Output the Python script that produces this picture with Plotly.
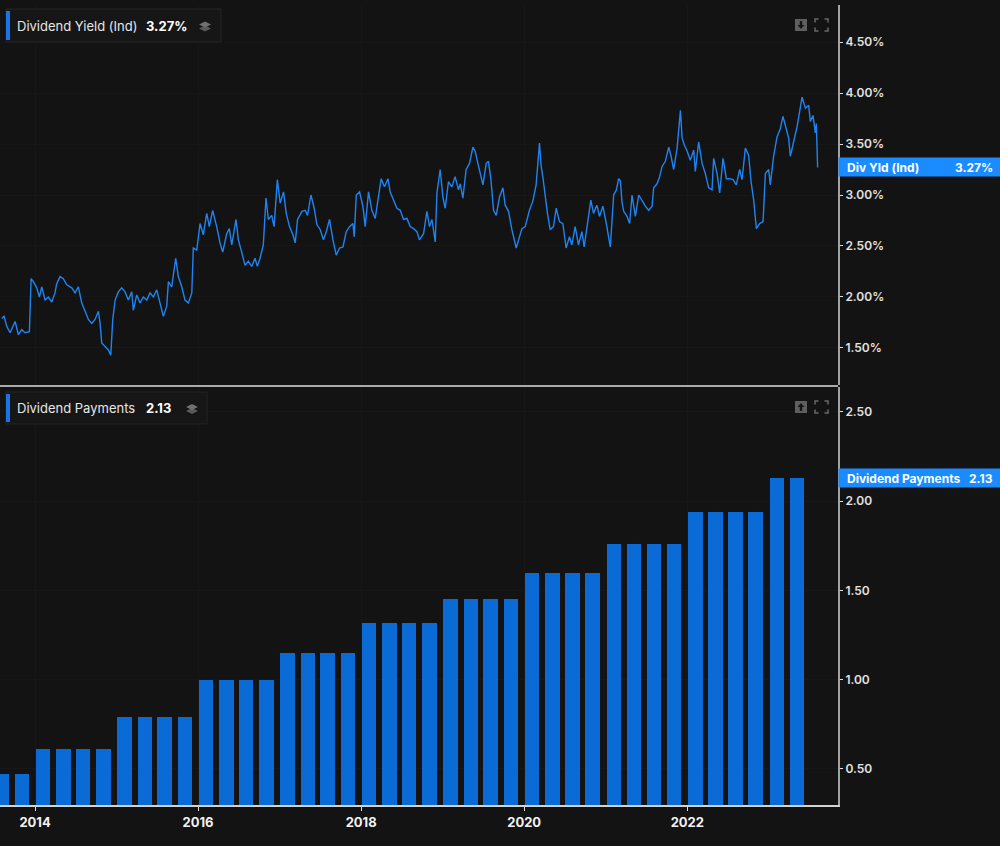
import pandas as pd
import plotly.graph_objects as go

W, H = 1000, 846

# Dividend yield (indicated), in %. Dates.
yield_t = [
    2013.591, 2013.620, 2013.653, 2013.693, 2013.755, 2013.795, 2013.837, 2013.877, 2013.930, 2013.951,
    2013.979, 2014.021, 2014.053, 2014.082, 2014.123, 2014.163, 2014.205, 2014.245, 2014.266, 2014.307,
    2014.347, 2014.389, 2014.450, 2014.491, 2014.531, 2014.573, 2014.614, 2014.654, 2014.696, 2014.736,
    2014.777, 2014.798, 2014.818, 2014.859, 2014.899, 2014.929, 2014.953, 2014.982, 2015.022, 2015.064,
    2015.104, 2015.145, 2015.187, 2015.206, 2015.248, 2015.288, 2015.329, 2015.371, 2015.411, 2015.452,
    2015.493, 2015.534, 2015.574, 2015.616, 2015.636, 2015.677, 2015.726, 2015.758, 2015.800, 2015.840,
    2015.881, 2015.923, 2015.942, 2015.984, 2016.025, 2016.065, 2016.107, 2016.139, 2016.180, 2016.229,
    2016.270, 2016.303, 2016.352, 2016.384, 2016.414, 2016.466, 2016.495, 2016.536, 2016.577, 2016.617,
    2016.659, 2016.699, 2016.728, 2016.761, 2016.801, 2016.834, 2016.863, 2016.904, 2016.933, 2016.973,
    2017.006, 2017.047, 2017.080, 2017.120, 2017.162, 2017.190, 2017.219, 2017.273, 2017.313, 2017.341,
    2017.383, 2017.423, 2017.456, 2017.497, 2017.537, 2017.571, 2017.611, 2017.653, 2017.693, 2017.734,
    2017.776, 2017.816, 2017.856, 2017.898, 2017.914, 2017.939, 2017.979, 2018.021, 2018.049, 2018.090,
    2018.131, 2018.172, 2018.212, 2018.245, 2018.286, 2018.328, 2018.356, 2018.396, 2018.438, 2018.479,
    2018.519, 2018.561, 2018.601, 2018.642, 2018.684, 2018.715, 2018.765, 2018.806, 2018.838, 2018.868,
    2018.908, 2018.929, 2018.969, 2019.003, 2019.031, 2019.071, 2019.113, 2019.153, 2019.194, 2019.215,
    2019.248, 2019.288, 2019.329, 2019.371, 2019.399, 2019.432, 2019.460, 2019.494, 2019.534, 2019.562,
    2019.592, 2019.624, 2019.657, 2019.697, 2019.739, 2019.767, 2019.808, 2019.849, 2019.902, 2019.930,
    2019.972, 2020.013, 2020.065, 2020.107, 2020.147, 2020.188, 2020.209, 2020.229, 2020.258, 2020.286,
    2020.319, 2020.360, 2020.393, 2020.433, 2020.475, 2020.515, 2020.556, 2020.585, 2020.626, 2020.666,
    2020.708, 2020.736, 2020.777, 2020.818, 2020.851, 2020.892, 2020.924, 2020.966, 2021.006, 2021.055,
    2021.096, 2021.129, 2021.157, 2021.178, 2021.198, 2021.219, 2021.260, 2021.292, 2021.321, 2021.362,
    2021.403, 2021.444, 2021.485, 2021.525, 2021.567, 2021.587, 2021.628, 2021.660, 2021.690, 2021.730,
    2021.771, 2021.800, 2021.832, 2021.874, 2021.915, 2021.935, 2021.963, 2021.997, 2022.037, 2022.078,
    2022.098, 2022.139, 2022.181, 2022.221, 2022.262, 2022.303, 2022.323, 2022.365, 2022.397, 2022.438,
    2022.479, 2022.519, 2022.561, 2022.601, 2022.642, 2022.671, 2022.712, 2022.752, 2022.782, 2022.814,
    2022.847, 2022.887, 2022.929, 2022.957, 2022.998, 2023.018, 2023.059, 2023.101, 2023.141, 2023.174,
    2023.203, 2023.243, 2023.264, 2023.305, 2023.347, 2023.408, 2023.449, 2023.489, 2023.510, 2023.542,
    2023.571, 2023.583, 2023.599,
]
yield_pct = [
    1.79, 1.81, 1.71, 1.65, 1.76, 1.63, 1.68, 1.65, 1.66, 2.18,
    2.15, 2.09, 2.00, 2.10, 1.97, 2.00, 1.95, 2.04, 2.13, 2.20,
    2.18, 2.12, 2.09, 2.04, 2.10, 1.94, 1.86, 1.78, 1.74, 1.78,
    1.86, 1.74, 1.55, 1.51, 1.48, 1.43, 1.78, 1.97, 2.05, 2.09,
    2.05, 1.97, 2.05, 1.87, 2.02, 1.94, 2.00, 1.97, 2.04, 2.00,
    2.07, 1.94, 1.81, 1.91, 2.15, 2.10, 2.38, 2.20, 2.10, 1.97,
    1.94, 2.04, 2.48, 2.46, 2.72, 2.61, 2.82, 2.69, 2.85, 2.69,
    2.53, 2.44, 2.62, 2.67, 2.51, 2.76, 2.56, 2.44, 2.31, 2.35,
    2.30, 2.38, 2.30, 2.38, 2.51, 2.97, 2.76, 2.80, 2.69, 3.15,
    2.92, 3.03, 2.82, 2.69, 2.61, 2.53, 2.76, 2.84, 2.85, 2.80,
    3.00, 2.87, 2.71, 2.66, 2.56, 2.64, 2.76, 2.56, 2.41, 2.48,
    2.49, 2.64, 2.69, 2.72, 2.59, 3.00, 3.03, 2.89, 2.69, 3.03,
    2.85, 2.77, 3.00, 3.16, 3.08, 3.16, 3.03, 2.95, 2.87, 2.85,
    2.76, 2.77, 2.69, 2.67, 2.64, 2.56, 2.62, 2.84, 2.69, 2.76,
    2.54, 3.02, 3.25, 2.98, 2.87, 3.13, 3.08, 3.18, 3.05, 3.11,
    2.97, 3.25, 3.31, 3.47, 3.43, 3.31, 3.21, 3.10, 3.31, 3.33,
    3.15, 2.85, 2.80, 2.98, 3.07, 2.90, 2.84, 2.66, 2.48, 2.56,
    2.67, 2.69, 2.85, 2.94, 3.10, 3.51, 3.28, 3.18, 2.98, 2.82,
    2.66, 2.69, 2.87, 2.74, 2.72, 2.48, 2.59, 2.51, 2.69, 2.51,
    2.64, 2.49, 2.72, 2.95, 2.82, 2.90, 2.79, 2.89, 2.72, 2.49,
    3.00, 3.05, 3.16, 3.14, 2.93, 2.84, 2.79, 2.72, 3.00, 2.79,
    3.00, 2.94, 2.89, 2.85, 2.89, 3.07, 3.11, 3.18, 3.28, 3.33,
    3.47, 3.38, 3.25, 3.46, 3.83, 3.56, 3.49, 3.43, 3.34, 3.44,
    3.23, 3.52, 3.31, 3.21, 3.07, 3.05, 3.36, 3.21, 3.02, 3.36,
    3.16, 3.16, 3.15, 3.10, 3.25, 3.15, 3.46, 3.39, 3.13, 2.95,
    2.67, 2.72, 2.74, 3.21, 3.25, 3.10, 3.38, 3.57, 3.65, 3.77,
    3.67, 3.56, 3.38, 3.51, 3.67, 3.96, 3.85, 3.88, 3.72, 3.78,
    3.61, 3.70, 3.27,
]

# Dividend payments (bars)
pay_dates = [
    "2013-08-04", "2013-11-03",
    "2014-02-06", "2014-05-08", "2014-08-04", "2014-11-03",
    "2015-02-06", "2015-05-08", "2015-08-04", "2015-11-03",
    "2016-02-06", "2016-05-08", "2016-08-04", "2016-11-03",
    "2017-02-06", "2017-05-08", "2017-08-04", "2017-11-03",
    "2018-02-06", "2018-05-08", "2018-08-04", "2018-11-03",
    "2019-02-06", "2019-05-08", "2019-08-04", "2019-11-03",
    "2020-02-06", "2020-05-08", "2020-08-04", "2020-11-03",
    "2021-02-06", "2021-05-08", "2021-08-04", "2021-11-03",
    "2022-02-06", "2022-05-08", "2022-08-04", "2022-11-03",
    "2023-02-06", "2023-05-08",
]
pay_amount = [
    0.47, 0.47,
    0.61, 0.61, 0.61, 0.61,
    0.79, 0.79, 0.79, 0.79,
    1.00, 1.00, 1.00, 1.00,
    1.15, 1.15, 1.15, 1.15,
    1.32, 1.32, 1.32, 1.32,
    1.45, 1.45, 1.45, 1.45,
    1.60, 1.60, 1.60, 1.60,
    1.76, 1.76, 1.76, 1.76,
    1.94, 1.94, 1.94, 1.94,
    2.13, 2.13,
]

year_ticks = ["2014-01-01", "2016-01-01", "2018-01-01", "2020-01-01", "2022-01-01"]
year_labels = ["2014", "2016", "2018", "2020", "2022"]
yield_ticks = [1.5, 2.0, 2.5, 3.0, 3.5, 4.0, 4.5]
pay_ticks = [0.5, 1.0, 1.5, 2.0, 2.5]


def to_date(t):
    yr = int(t)
    return pd.Timestamp(year=yr, month=1, day=1) + pd.Timedelta(days=(t - yr) * 365.25)


yield_dates = [to_date(t) for t in yield_t]


# pixel -> paper helpers for the decorations
def px(x):
    return x / W


def py(y):
    return 1 - y / H


BG = "#131313"
BLUE_LINE = "#1f84f2"
BLUE_BAR = "#0b6bd6"
BLUE_TAG = "#1a8cff"
FONT = "Inter, Roboto, sans-serif"
x_range = ["2013-07-28", "2023-11-07"]

fig = go.Figure()
fig.add_trace(go.Scatter(x=yield_dates, y=yield_pct, mode="lines",
                         line=dict(color=BLUE_LINE, width=1.4),
                         xaxis="x", yaxis="y", hoverinfo="skip"))
fig.add_trace(go.Bar(x=pd.to_datetime(pay_dates), y=pay_amount,
                     marker=dict(color=BLUE_BAR, line=dict(width=0)),
                     width=65 * 86400000, xaxis="x2", yaxis="y2", hoverinfo="skip"))

tickfont = dict(family=FONT, size=12, color="#e2e2e2", weight=600)
grid = "#171717"

fig.update_layout(
    width=W, height=H,
    margin=dict(l=0, r=0, t=0, b=0),
    paper_bgcolor=BG, plot_bgcolor=BG,
    showlegend=False,
    xaxis=dict(domain=[0, px(838)], range=x_range, type="date", anchor="y",
               tickvals=year_ticks, showticklabels=False, showgrid=True,
               gridcolor=grid, zeroline=False, showline=False),
    yaxis=dict(domain=[py(385), py(5)], range=[1.137, 4.863], anchor="x", side="right",
               tickvals=yield_ticks, ticktext=[f"{v:.2f}%" for v in yield_ticks],
               ticks="outside", ticklen=3, tickcolor="#dddddd", tickfont=tickfont,
               showline=True, linecolor="#a3a3a3", linewidth=2,
               showgrid=True, gridcolor=grid, zeroline=False),
    xaxis2=dict(domain=[0, px(838)], range=x_range, type="date", anchor="y2",
                tickvals=year_ticks, ticktext=year_labels,
                ticks="outside", ticklen=4, tickcolor="#dddddd",
                tickfont=dict(family=FONT, size=13, color="#f2f2f2", weight=700),
                showline=True, linecolor="#d2d2d2", linewidth=2,
                showgrid=True, gridcolor=grid, zeroline=False),
    yaxis2=dict(domain=[py(805), py(387)], range=[0.298, 2.64], anchor="x2", side="right",
                tickvals=pay_ticks, ticktext=[f"{v:.2f}" for v in pay_ticks],
                ticks="outside", ticklen=3, tickcolor="#dddddd", tickfont=tickfont,
                showline=True, linecolor="#a3a3a3", linewidth=2,
                showgrid=True, gridcolor=grid, zeroline=False),
    bargap=0,
)

shapes = []
annotations = []

# panel separator
shapes.append(dict(type="line", xref="paper", yref="paper", x0=0, x1=px(838),
                   y0=py(386), y1=py(386), line=dict(color="#aaaaaa", width=2)))


def header(y_top, y_bot, x_right, title, value, value_x, icon_x):
    shapes.append(dict(type="rect", xref="paper", yref="paper",
                       x0=px(6), x1=px(x_right), y0=py(y_bot), y1=py(y_top),
                       fillcolor="#161616", line=dict(color="#252525", width=1)))
    shapes.append(dict(type="rect", xref="paper", yref="paper",
                       x0=px(6), x1=px(10), y0=py(y_bot - 2), y1=py(y_top + 2),
                       fillcolor="#1a73e8", line=dict(width=0)))
    yc = (y_top + y_bot) / 2
    annotations.append(dict(xref="paper", yref="paper", x=px(15), y=py(yc),
                            xanchor="left", yanchor="middle", showarrow=False, text=title,
                            font=dict(family=FONT, size=13, color="#e6e6e6")))
    annotations.append(dict(xref="paper", yref="paper", x=px(value_x), y=py(yc),
                            xanchor="left", yanchor="middle", showarrow=False, text=value,
                            font=dict(family=FONT, size=13, color="#ffffff", weight=700)))
    # small layered "stack" icon
    cx, cy = icon_x, yc
    for dy, col in ((3, "#5a5a5a"), (-1, "#707070")):
        path = (f"M {px(cx - 6)} {py(cy + dy)} L {px(cx)} {py(cy + dy - 3)} "
                f"L {px(cx + 6)} {py(cy + dy)} L {px(cx)} {py(cy + dy + 3)} Z")
        shapes.append(dict(type="path", xref="paper", yref="paper", path=path,
                           fillcolor=col, line=dict(width=0)))


header(9, 42, 221, "Dividend Yield (Ind)", f"{yield_pct[-1]:.2f}%", 144, 205)
header(392, 424, 207, "Dividend Payments", f"{pay_amount[-1]:.2f}", 144, 192)


def corner_icons(yc, up):
    # download / move button
    shapes.append(dict(type="rect", xref="paper", yref="paper",
                       x0=px(795), x1=px(807), y0=py(yc + 6), y1=py(yc - 6),
                       fillcolor="#5f5f5f", line=dict(width=0)))
    s = -1 if up else 1
    arrow = (f"M {px(801)} {py(yc + 4 * s)} L {px(797.5)} {py(yc)} L {px(799.8)} {py(yc)} "
             f"L {px(799.8)} {py(yc - 4 * s)} L {px(802.2)} {py(yc - 4 * s)} "
             f"L {px(802.2)} {py(yc)} L {px(804.5)} {py(yc)} Z")
    shapes.append(dict(type="path", xref="paper", yref="paper", path=arrow,
                       fillcolor="#161616", line=dict(width=0)))
    # fullscreen corners
    x0, x1, y0, y1, d = 815, 828, yc - 6, yc + 6, 3.5
    for (ax, ay, sx, sy) in ((x0, y0, 1, 1), (x1, y0, -1, 1), (x0, y1, 1, -1), (x1, y1, -1, -1)):
        path = (f"M {px(ax)} {py(ay + sy * d)} L {px(ax)} {py(ay)} L {px(ax + sx * d)} {py(ay)}")
        shapes.append(dict(type="path", xref="paper", yref="paper", path=path,
                           line=dict(color="#6a6a6a", width=1.5)))


corner_icons(25, False)
corner_icons(407, True)


def value_tag(yref, yval, label, value):
    annotations.append(dict(xref="paper", yref=yref, x=px(838), y=yval,
                            xanchor="left", yanchor="middle", showarrow=False, text=" ",
                            width=162, height=18, bgcolor=BLUE_TAG, borderpad=0,
                            font=dict(size=12)))
    annotations.append(dict(xref="paper", yref=yref, x=px(845), y=yval,
                            xanchor="left", yanchor="middle", showarrow=False, text=label,
                            font=dict(family=FONT, size=12, color="#ffffff", weight=700)))
    annotations.append(dict(xref="paper", yref=yref, x=px(995), y=yval,
                            xanchor="right", yanchor="middle", showarrow=False, text=value,
                            font=dict(family=FONT, size=12, color="#ffffff", weight=700)))


value_tag("y", yield_pct[-1], "Div Yld (Ind)", f"{yield_pct[-1]:.2f}%")
value_tag("y2", pay_amount[-1], "Dividend Payments", f"{pay_amount[-1]:.2f}")

fig.update_layout(shapes=shapes, annotations=annotations)

# drop the browser's default page margin so the figure sits at the window's corner
fig.write_html("out.html", config={"displayModeBar": False},
               post_script="document.body.style.margin='0px';")
